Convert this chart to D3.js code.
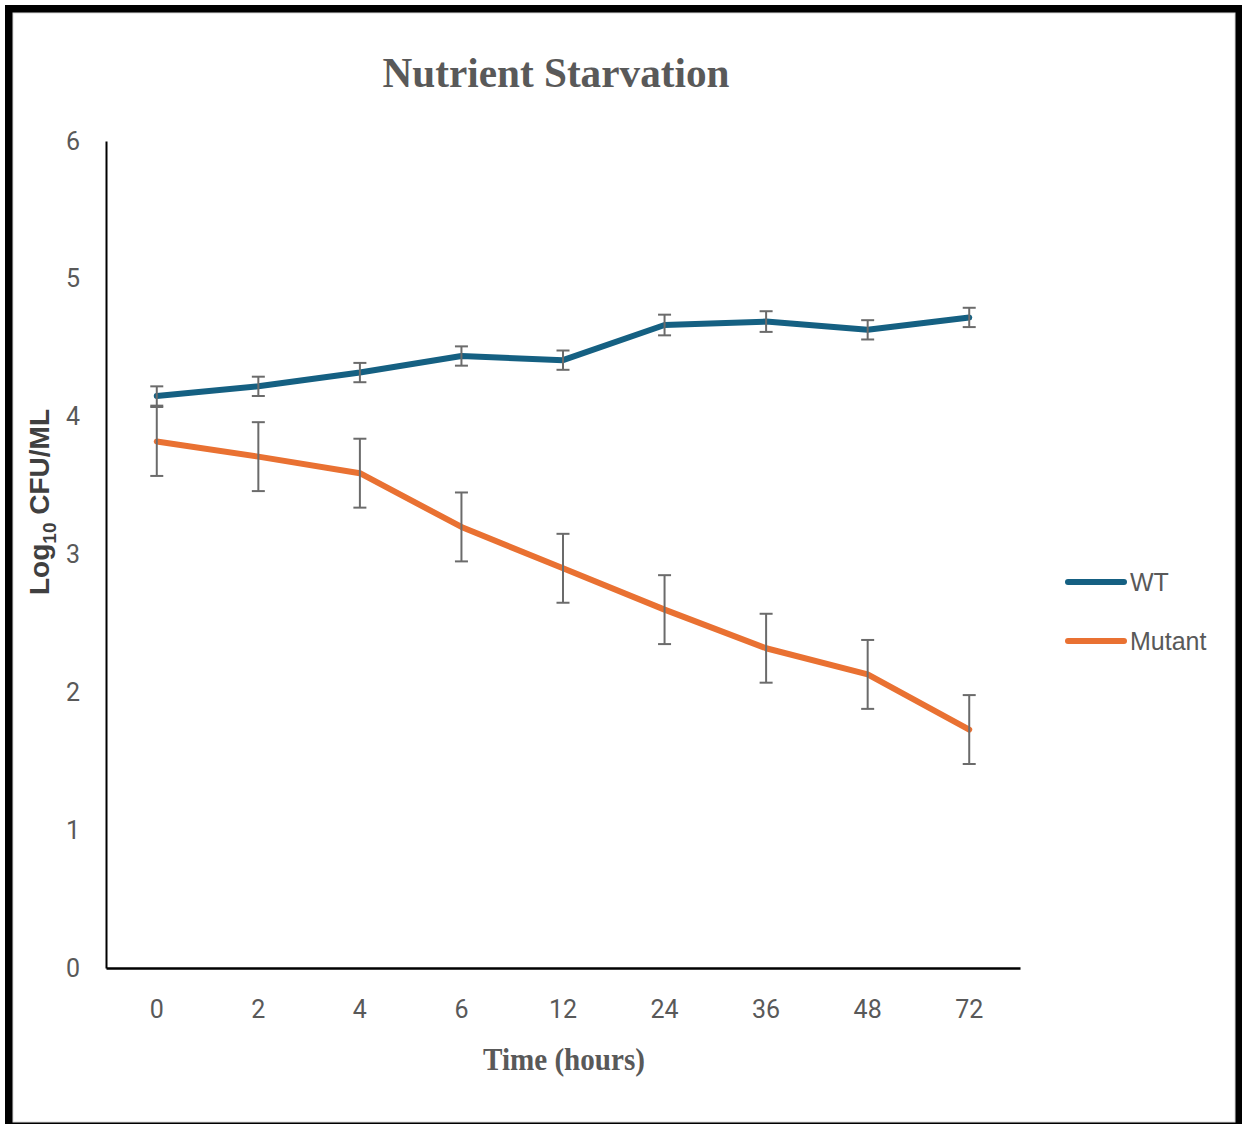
<!DOCTYPE html>
<html>
<head>
<meta charset="utf-8">
<script src="https://cdn.jsdelivr.net/npm/d3@7"></script>
<style>
  html, body { margin: 0; padding: 0; background: #fff; }
  svg { display: block; }
</style>
</head>
<body>
<svg id="chart" width="1242" height="1124"></svg>
<script>
// Sampling times (hours) shown as evenly spaced categories
const timePoints = ["0", "2", "4", "6", "12", "24", "36", "48", "72"];
// Mean log10 CFU/mL per time point
const wtValues     = [4.15, 4.22, 4.32, 4.44, 4.41, 4.665, 4.69, 4.63, 4.72];
const mutantValues = [3.82, 3.71, 3.59, 3.20, 2.90, 2.60, 2.32, 2.13, 1.73];
// Error bar half-widths
const wtErrors     = [0.07, 0.07, 0.07, 0.07, 0.07, 0.075, 0.075, 0.07, 0.07];
const mutantErrors = [0.25, 0.25, 0.25, 0.25, 0.25, 0.25, 0.25, 0.25, 0.25];
const yTicks = [0, 1, 2, 3, 4, 5, 6];
const seriesNames = ["WT", "Mutant"];
const seriesColors = ["#156082", "#E97132"];

const svg = d3.select("#chart");

// Frame around the figure
svg.append("rect").attr("x", 5).attr("y", 5).attr("width", 1237).attr("height", 1119).attr("fill", "#000");
svg.append("rect").attr("x", 13).attr("y", 13).attr("width", 1222).attr("height", 1109)
  .attr("fill", "#fff").attr("stroke", "#d9d9d9").attr("stroke-width", 1);

const plot = { left: 106, right: 1020, top: 141, bottom: 968 };

const x = d3.scaleBand().domain(timePoints).range([plot.left, plot.right]);
const y = d3.scaleLinear().domain([0, 6]).range([plot.bottom, plot.top]);
const cx = t => x(t) + x.bandwidth() / 2;

const tickFont = "'Liberation Sans Narrow', 'Arial Narrow', 'Roboto', sans-serif";
const textGray = "#595959";

// Y axis: line plus labels, no tick marks
const yAxis = d3.axisLeft(y).tickValues(yTicks).tickSize(0).tickPadding(26).tickFormat(d3.format("d"));
const gy = svg.append("g").attr("transform", `translate(${plot.left},0)`).call(yAxis);
gy.select(".domain").attr("stroke", "#000").attr("stroke-width", 2);
gy.selectAll("text").attr("font-family", tickFont).attr("font-size", 25).attr("fill", textGray);

// X axis
const xAxis = d3.axisBottom(x).tickSize(0).tickPadding(32);
const gx = svg.append("g").attr("transform", `translate(0,${plot.bottom})`).call(xAxis);
gx.select(".domain").attr("stroke", "#000").attr("stroke-width", 2.5);
gx.selectAll("text").attr("font-family", tickFont).attr("font-size", 25).attr("fill", textGray);

const series = [
  { name: seriesNames[0], values: wtValues, errors: wtErrors, color: seriesColors[0] },
  { name: seriesNames[1], values: mutantValues, errors: mutantErrors, color: seriesColors[1] }
];

const line = d3.line().x((d, i) => cx(timePoints[i])).y(d => y(d));

series.forEach(s => {
  svg.append("path")
    .datum(s.values)
    .attr("d", line)
    .attr("fill", "none")
    .attr("stroke", s.color)
    .attr("stroke-width", 6)
    .attr("stroke-linejoin", "round")
    .attr("stroke-linecap", "round");
});

// Error bars drawn on top of lines
const capHalf = 6.5;
series.forEach(s => {
  const g = svg.append("g").attr("stroke", "#6b6b6b").attr("stroke-width", 2).attr("fill", "none");
  s.values.forEach((v, i) => {
    const px = cx(timePoints[i]);
    const hi = y(v + s.errors[i]), lo = y(v - s.errors[i]);
    g.append("line").attr("x1", px).attr("x2", px).attr("y1", hi).attr("y2", lo);
    g.append("line").attr("x1", px - capHalf).attr("x2", px + capHalf).attr("y1", hi).attr("y2", hi);
    g.append("line").attr("x1", px - capHalf).attr("x2", px + capHalf).attr("y1", lo).attr("y2", lo);
  });
});

// Title
svg.append("text")
  .attr("x", 556).attr("y", 87)
  .attr("text-anchor", "middle")
  .attr("font-family", "'Liberation Serif', 'Times New Roman', serif")
  .attr("font-weight", "bold")
  .attr("font-size", 42)
  .attr("fill", textGray)
  .attr("textLength", 347)
  .attr("lengthAdjust", "spacingAndGlyphs")
  .text("Nutrient Starvation");

// X axis title
svg.append("text")
  .attr("x", 564).attr("y", 1070)
  .attr("text-anchor", "middle")
  .attr("font-family", "'Liberation Serif', 'Times New Roman', serif")
  .attr("font-weight", "bold")
  .attr("font-size", 31)
  .attr("fill", textGray)
  .attr("textLength", 162)
  .attr("lengthAdjust", "spacingAndGlyphs")
  .text("Time (hours)");

// Y axis title with subscript
const yTitle = svg.append("text")
  .attr("transform", "translate(49,502) rotate(-90)")
  .attr("text-anchor", "middle")
  .attr("font-family", "'Liberation Sans', Arial, sans-serif")
  .attr("font-weight", "bold")
  .attr("font-size", 28)
  .attr("fill", "#404040");
yTitle.append("tspan").text("Log");
yTitle.append("tspan").attr("font-size", 19).attr("dy", 7).text("10");
yTitle.append("tspan").attr("dy", -7).text(" CFU/ML");

// Legend
const legend = svg.append("g");
series.forEach((s, i) => {
  const ly = 582 + i * 59;
  legend.append("line")
    .attr("x1", 1068).attr("x2", 1124).attr("y1", ly).attr("y2", ly)
    .attr("stroke", s.color).attr("stroke-width", 6).attr("stroke-linecap", "round");
  legend.append("text")
    .attr("x", 1130).attr("y", ly + 9)
    .attr("font-family", "'Liberation Sans Narrow', 'Arial Narrow', sans-serif")
    .attr("font-size", 25)
    .attr("fill", textGray)
    .text(s.name);
});
</script>
</body>
</html>
